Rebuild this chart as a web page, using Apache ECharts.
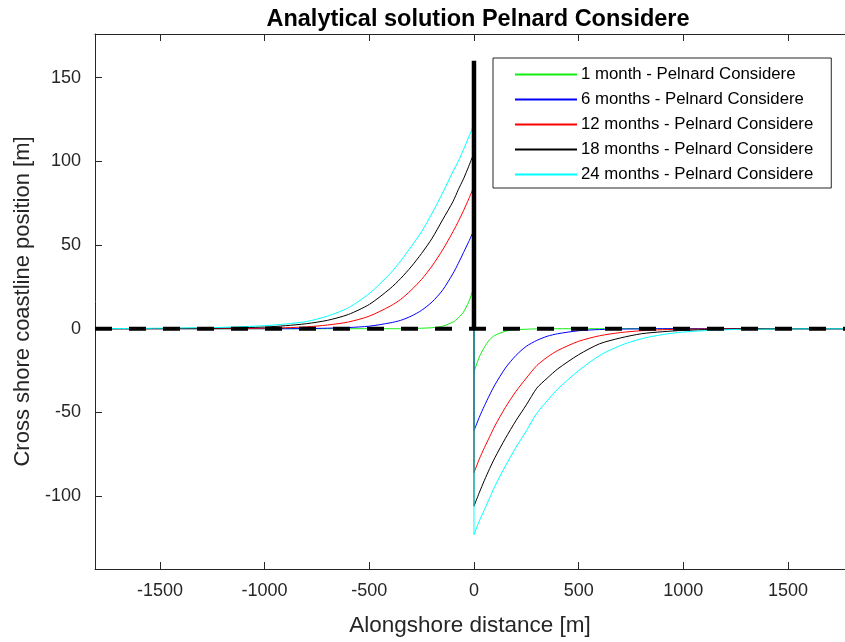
<!DOCTYPE html>
<html>
<head>
<meta charset="utf-8">
<script src="https://cdn.jsdelivr.net/npm/echarts@6/dist/echarts.min.js"></script>
<style>html,body{margin:0;padding:0;background:#fff;overflow:hidden;}#c{width:845px;height:642px;}</style>
</head>
<body>
<div id="c"></div>
<script>
// Alongshore positions [m]: updrift side of the groyne (x<=0), then downdrift side (x>=0)
const xsLeft  = [-1810,-1500,-1200,-1000,-900,-800,-700,-600,-500,-400,-350,-300,-250,-200,-150,-100,-75,-50,-25,0];
const xsRight = [0,25,50,75,100,150,200,250,300,350,400,500,600,700,800,900,1000,1200,1500,1772];
const seriesNames = ['1 month - Pelnard Considere','6 months - Pelnard Considere','12 months - Pelnard Considere','18 months - Pelnard Considere','24 months - Pelnard Considere'];
const month1Left   = [0,0,0,0,0,0,0,0,0,0,0,0.1,0.3,0.6,1.5,4,6.5,10,16,25];
const month1Right  = [-26,-17,-11,-6.5,-4,-1.5,-0.6,-0.3,-0.1,0,0,0,0,0,0,0,0,0,0,0];
const month6Left   = [0,0,0,0,0,0.1,0.3,0.7,1.5,3.5,5,7.5,11,16,23,33,39,45.5,52,59];
const month6Right  = [-61,-53,-46,-39.5,-33.5,-23.5,-16,-10.5,-7,-4.5,-3,-1.2,-0.5,-0.2,-0.1,0,0,0,0,0];
const month12Left  = [0,0,0.1,0.3,0.6,1.1,2.2,4,7.5,13.5,17.5,23,29.5,37.5,47,58,64,70.5,77.5,85];
const month12Right = [-86,-78,-71,-64.5,-58,-47,-37.5,-29.5,-22,-17,-13,-7.5,-4.2,-2.3,-1.2,-0.6,-0.3,-0.1,0,0];
const month18Left  = [0,0.1,0.4,1,1.8,3,5,8.5,14.5,24,30,37,45,54,65,76,83,89.5,97,105];
const month18Right = [-106,-98,-90.5,-83.5,-77,-65.5,-55,-45.5,-35.5,-29.5,-24,-15.5,-9,-5.5,-3,-1.8,-1,-0.3,0,0];
const month24Left  = [0,0.3,0.8,1.8,2.8,4.3,7.5,12.5,21,33,40.5,49,58,69,81,94,100,107,114.5,122];
const month24Right = [-123,-115,-108,-101,-94,-82,-71,-61,-50.5,-43,-36,-25,-16,-10,-6,-3.5,-2,-0.6,-0.1,0];
const groyneX = [0,0];
const groyneY = [0,160];
const coastX = [-1810,1772];
const coastY = [0,0];
const xTicks = [-1500,-1000,-500,0,500,1000,1500];
const yTicks = [-100,-50,0,50,100,150];
const colors = ['#11ee11','#0000ff','#ff0000','#000000','#00ffff'];

const leftVals  = [month1Left, month6Left, month12Left, month18Left, month24Left];
const rightVals = [month1Right, month6Right, month12Right, month18Right, month24Right];
const font = 'Liberation Sans, Arial, Helvetica, sans-serif';
const axisCol = '#262626';
const plain = v => String(v);

const chart = echarts.init(document.getElementById('c'), null, {renderer:'canvas', width:845, height:642});
const series = [];
seriesNames.forEach((nm,k)=>{
  const base = {name:nm, type:'line', symbol:'none', animation:false,
    lineStyle:{color:colors[k], width:1}, itemStyle:{color:colors[k]}, z:2+k};
  series.push(Object.assign({}, base, {smooth:0.25,
    data: xsLeft.map((x,i)=>[x, leftVals[k][i]])}));
  series.push(Object.assign({}, base, {smooth:0.25,
    data: xsRight.map((x,i)=>[x, rightVals[k][i]])}));
  series.push(Object.assign({}, base, {
    data: [[xsLeft[xsLeft.length-1], leftVals[k][leftVals[k].length-1]], [xsRight[0], rightVals[k][0]]]}));
});
series.push({
  name:'groyne', type:'line', symbol:'none', animation:false,
  data: groyneX.map((x,i)=>[x, groyneY[i]]),
  lineStyle:{color:'#000', width:4.5, cap:'butt'}, z:10
});
series.push({
  name:'coast', type:'line', symbol:'none', animation:false,
  data: coastX.map((x,i)=>[x, coastY[i]]),
  lineStyle:{color:'#000', width:4, type:[17,17], cap:'butt'}, z:11
});

const option = {
  backgroundColor:'#fff',
  animation:false,
  title:{text:'Analytical solution Pelnard Considere', left:473, top:3, textAlign:'center',
    textStyle:{fontFamily:font, fontSize:23.5, fontWeight:'bold', color:'#000'}},
  grid:{left:95, top:34, width:750, height:539, containLabel:false},
  legend:{
    data: seriesNames, orient:'vertical', left:493, top:58,
    itemWidth:62, itemHeight:14, itemGap:8, padding:[8,18,5,21],
    borderColor:axisCol, borderWidth:1, backgroundColor:'#fff',
    itemStyle:{opacity:0},
    textStyle:{fontFamily:font, fontSize:16.8, lineHeight:15, color:'#000', padding:[0,0,0,-1]},
    selectedMode:false
  },
  xAxis:[{
    type:'value', min:-1810, max:1772, position:'bottom',
    name:'Alongshore distance [m]', nameLocation:'middle', nameGap:45,
    nameTextStyle:{fontFamily:font, fontSize:22.5, color:axisCol},
    axisLine:{onZero:false, lineStyle:{color:axisCol, width:1}},
    axisTick:{inside:true, length:7, customValues:xTicks, lineStyle:{color:axisCol}},
    axisLabel:{customValues:xTicks, formatter:plain, fontFamily:font, fontSize:18, color:axisCol, margin:13},
    splitLine:{show:false}
  },{
    type:'value', min:-1810, max:1772, position:'top',
    axisLine:{onZero:false, lineStyle:{color:axisCol, width:1}},
    axisTick:{inside:true, length:7, customValues:xTicks, lineStyle:{color:axisCol}},
    axisLabel:{show:false}, splitLine:{show:false}
  }],
  yAxis:[{
    type:'value', min:-143.5, max:176,
    name:'Cross shore coastline position [m]', nameLocation:'middle', nameGap:48,
    nameTextStyle:{fontFamily:font, fontSize:22, color:axisCol},
    axisLine:{show:true, onZero:false, lineStyle:{color:axisCol, width:1}},
    axisTick:{show:true, inside:true, length:7, customValues:yTicks, lineStyle:{color:axisCol}},
    axisLabel:{customValues:yTicks, formatter:plain, fontFamily:font, fontSize:18, color:axisCol, margin:14},
    splitLine:{show:false}
  }],
  series: series
};
chart.setOption(option);
</script>
</body>
</html>
